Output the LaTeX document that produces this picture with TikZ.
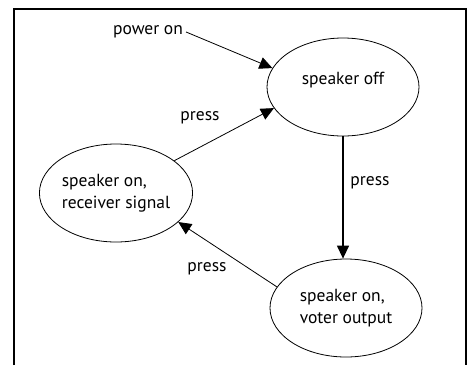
\documentclass[tikz,border=0pt]{standalone}
\usepackage{fontspec}
\setmainfont{PT Sans}
\usetikzlibrary{shapes.geometric,arrows.meta}

\tikzset{
  state/.style={draw, ellipse, line width=0.8pt, minimum width=152pt, minimum height=98pt, inner sep=0pt, align=left},
  trans/.style={-{Triangle[length=13pt,width=12pt]}, line width=0.8pt},
  lbl/.style={inner sep=0pt}
}

\begin{document}
\begin{tikzpicture}[x=1pt, y=-1pt, font=\fontsize{17.5}{22}\selectfont]
  \useasboundingbox (0,0) rectangle (468,365);
  \draw[line width=1.3pt] (14,365) -- (14,9) -- (466,9) -- (466,365);

  % states
  \node[state] (off) at (343,87) {speaker off\\[-4pt]\mbox{}};
  \node[state] (recv) at (116,193) {speaker on,\\receiver signal};
  \node[state] (voter) at (346,308) {speaker on,\\voter output};

  % labels
  \node[lbl] (poweron) at (148,32) {power on};
  \node[lbl] (press1) at (200,118) {press};
  \node[lbl] (press2) at (370,183) {press};
  \node[lbl] (press3) at (207,269) {press};

  % transitions
  \draw[trans] (poweron.east) ++(3pt,0) -- (off.165);
  \draw[trans] (recv.29) -- (off.197);
  \draw[trans, line width=1.3pt] (off.south) -- (off.south |- voter.north);
  \draw[trans] (voter.163) -- (recv.335);
\end{tikzpicture}
\end{document}
